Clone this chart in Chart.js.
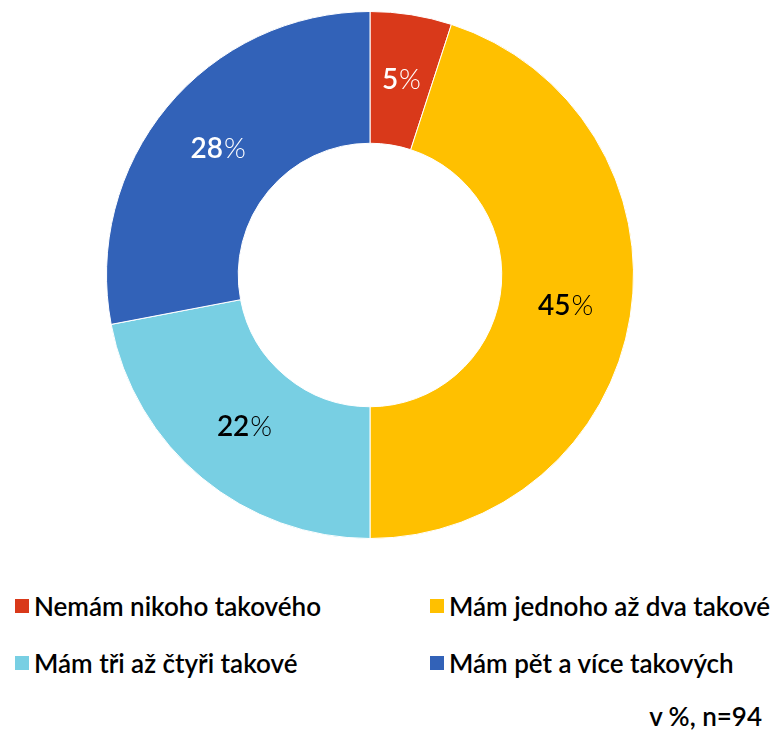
<!DOCTYPE html>
<html>
<head>
<meta charset="utf-8">
<script src="https://cdn.jsdelivr.net/npm/chart.js@4/dist/chart.umd.min.js"></script>
<style>
  html, body { margin: 0; padding: 0; background: #fff; }
  body { width: 783px; height: 731px; position: relative; overflow: hidden; font-family: Lato, sans-serif; }
  #wrap { position: absolute; left: 0; top: 0; width: 740px; height: 550px; }
  .legend { position: absolute; left: 0; top: 591px; width: 783px; }
  .item { position: absolute; display: flex; align-items: center; font-size: 26px; font-weight: 600; color: #000; white-space: nowrap; line-height: 30px; }
  .item span.box { display: inline-block; width: 14px; height: 14px; margin-right: 5px; }
  .note { position: absolute; right: 21px; top: 701px; font-size: 26px; font-weight: 600; color: #000; line-height: 30px; }
</style>
</head>
<body>
<div id="wrap"><canvas id="donut"></canvas></div>
<div class="legend" id="legend"></div>
<div class="note">v %, n=94</div>
<script>
  const categories = ['Nemám nikoho takového', 'Mám jednoho až dva takové', 'Mám tři až čtyři takové', 'Mám pět a více takových'];
  const shares = [5, 45, 22, 28];
  const sliceColors = ['#D9391A', '#FFC000', '#78CFE3', '#3262B8'];
  const labelColors = ['#fff', '#000', '#000', '#fff'];

  // percent labels in the middle of each ring segment, "%" drawn lighter
  const sliceLabels = {
    id: 'sliceLabels',
    afterDatasetsDraw(chart) {
      const ctx = chart.ctx;
      const arcs = chart.getDatasetMeta(0).data;
      ctx.save();
      ctx.textBaseline = 'middle';
      arcs.forEach((arc, i) => {
        const p = arc.getCenterPoint();
        const num = String(shares[i]);
        ctx.font = '600 28px Lato';
        const wNum = ctx.measureText(num).width;
        ctx.font = '300 28px Lato';
        const wPct = ctx.measureText('%').width;
        const x0 = p.x - (wNum + wPct) / 2;
        ctx.fillStyle = labelColors[i];
        ctx.textAlign = 'left';
        ctx.font = '600 28px Lato';
        ctx.fillText(num, x0, p.y);
        ctx.font = '300 28px Lato';
        ctx.fillText('%', x0 + wNum + 1, p.y);
      });
      ctx.restore();
    }
  };

  new Chart(document.getElementById('donut'), {
    type: 'doughnut',
    data: {
      labels: categories,
      datasets: [{
        data: shares,
        backgroundColor: sliceColors,
        borderColor: '#fff',
        borderWidth: 1,
      }]
    },
    options: {
      responsive: true,
      maintainAspectRatio: false,
      animation: false,
      cutout: '50%',
      layout: { padding: { top: 11, bottom: 11 } },
      plugins: { legend: { display: false }, tooltip: { enabled: false } }
    },
    plugins: [sliceLabels]
  });

  // two-column legend below the ring
  const legend = document.getElementById('legend');
  const spots = [[15, 0], [430, 0], [15, 57], [430, 57]];
  categories.forEach((c, i) => {
    const el = document.createElement('div');
    el.className = 'item';
    el.style.left = spots[i][0] + 'px';
    el.style.top = spots[i][1] + 'px';
    el.innerHTML = '<span class="box" style="background:' + sliceColors[i] + '"></span>' + c;
    legend.appendChild(el);
  });
</script>
</body>
</html>
